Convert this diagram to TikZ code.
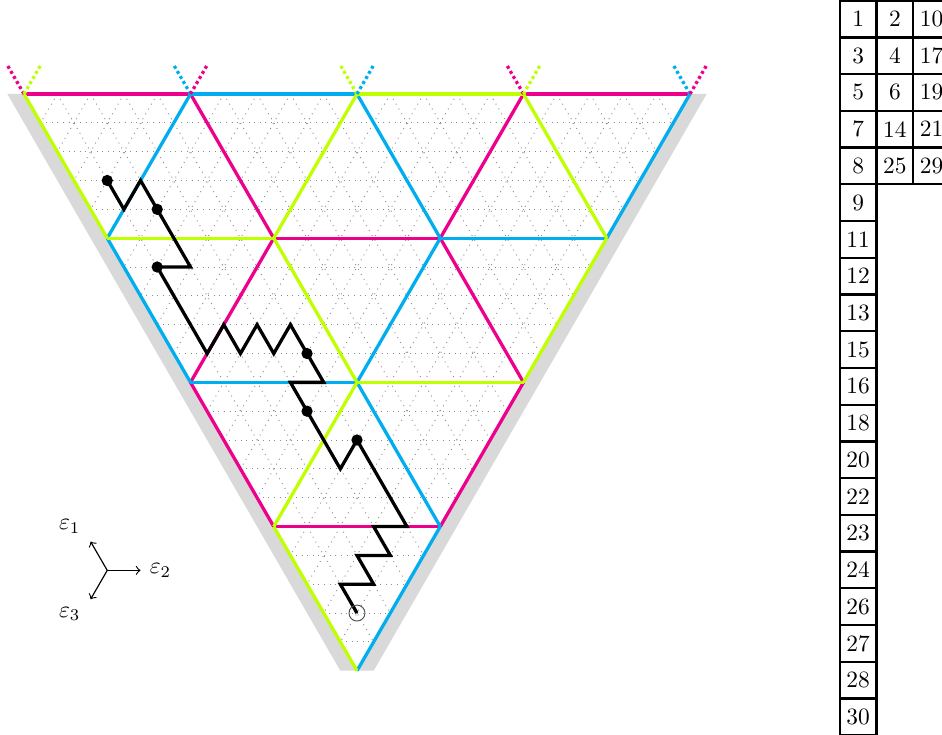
\documentclass[tikz,border=0pt]{standalone}
\usepackage{amsmath, amssymb}
\usepackage{xcolor}
\usetikzlibrary{positioning}
\definecolor{wallm}{HTML}{EC008C}
\definecolor{wallc}{HTML}{00AEEF}
\definecolor{wallg}{HTML}{BFFF00}
\begin{document}
\begin{tikzpicture}[
    x=0.25cm, y=-0.433cm,
    grid/.style={black!45, dotted, line width=0.4pt},
    mwall/.style={wallm, line width=1.4pt},
    cwall/.style={wallc, line width=1.4pt},
    gwall/.style={wallg, line width=1.4pt},
    stub/.style={line width=1.4pt, dash pattern=on 1.3pt off 1.2pt},
    walk/.style={line width=1.4pt, line join=miter},
    dot/.style={circle, fill=black, inner sep=0pt, minimum size=0.17cm},
    cell/.style={rectangle, draw, line width=1pt, outer sep=0pt, minimum size=0.5515cm, inner sep=0pt},
    axis/.style={->, >=to, line width=0.5pt}
]
\useasboundingbox (-1.441,-3.259) rectangle (55.135,22.226);

% shaded band along the walls
\fill[black!15] (-1,0) -- (19,20) -- (21,20) -- (41,0) -- (40,0) -- (20,20) -- (0,0) -- cycle;

% fine lattice
\foreach \r in {1,...,19}
    \draw[grid] (\r,\r) -- ({40-\r},\r);
\foreach \k in {2,4,...,38} {
    \draw[grid] (\k,0) -- ({(40+\k)/2},{(40-\k)/2});
    \draw[grid] (\k,0) -- ({\k/2},{\k/2});
}

% walls of the alcoves
\foreach \a/\b/\c/\d in {0/0/10/0, 30/0/40/0, 15/5/25/5, 15/15/25/15,
                         10/0/15/5, 10/10/15/15, 25/5/30/10, 15/5/10/10,
                         30/0/25/5, 30/10/25/15}
    \draw[mwall] (\a,\b) -- (\c,\d);
\foreach \a/\b/\c/\d in {10/0/20/0, 25/5/35/5, 10/10/20/10,
                         5/5/10/10, 20/10/25/15, 20/0/25/5,
                         10/0/5/5, 25/5/20/10, 40/0/35/5, 25/15/20/20}
    \draw[cwall] (\a,\b) -- (\c,\d);
\foreach \a/\b/\c/\d in {20/0/30/0, 5/5/15/5, 20/10/30/10,
                         0/0/5/5, 15/15/20/20, 15/5/20/10, 30/0/35/5,
                         20/0/15/5, 20/10/15/15, 35/5/30/10}
    \draw[gwall] (\a,\b) -- (\c,\d);

% walls continue above the top row
\foreach \k/\l/\m in {0/wallm/wallg, 10/wallc/wallm, 20/wallg/wallc, 30/wallm/wallg, 40/wallc/wallm} {
    \draw[stub, \l] (\k,0) -- ({\k-1},-1);
    \draw[stub, \m] (\k,0) -- ({\k+1},-1);
}

% the walk
\draw[walk] (20,18) -- (19,17) -- (21,17) -- (20,16) -- (22,16) -- (21,15) -- (23,15)
    -- (20,12) -- (19,13) -- (16,10) -- (18,10) -- (16,8) -- (15,9) -- (14,8) -- (13,9)
    -- (12,8) -- (11,9) -- (8,6) -- (10,6) -- (7,3) -- (6,4) -- (5,3);
\node[dot] (d1) at (20,12) {};
\node[dot] (d2) at (17,11) {};
\node[dot] (d3) at (17,9) {};
\node[dot] (d4) at (8,6) {};
\node[dot] (d5) at (8,4) {};
\node[dot] (d6) at (5,3) {};
\node[circle, draw=black!70, line width=0.4pt, inner sep=0pt, minimum size=0.24cm] (start) at (20,18) {};

% directions
\coordinate (orig) at (5,16.52);
\node[inner sep=2pt] (e1) at (2.75,15.0) {$\varepsilon_1$};
\node[inner sep=2pt] (e2) at (8.2,16.52) {$\varepsilon_2$};
\node[inner sep=2pt] (e3) at (2.75,18.03) {$\varepsilon_3$};
\coordinate (t1) at (4,15.52);
\coordinate (t2) at (7,16.52);
\coordinate (t3) at (4,17.52);
\draw[axis] (orig) -- (t1);
\draw[axis] (orig) -- (t2);
\draw[axis] (orig) -- (t3);

% tableau
\node[cell] (a1) at (50.1,-2.6) {1};
\foreach \v [count=\i from 2, remember=\i as \j (initially 1)] in {3,5,7,8,9,11,12,13,15,16,18,20,22,23,24,26,27,28,30}
    \node[cell, below=0pt of a\j] (a\i) {\v};
\node[cell, right=0pt of a1] (b1) {2};
\foreach \v [count=\i from 2, remember=\i as \j (initially 1)] in {4,6,14,25}
    \node[cell, below=0pt of b\j] (b\i) {\v};
\node[cell, right=0pt of b1] (c1) {10};
\foreach \v [count=\i from 2, remember=\i as \j (initially 1)] in {17,19,21,29}
    \node[cell, below=0pt of c\j] (c\i) {\v};
\end{tikzpicture}
\end{document}
